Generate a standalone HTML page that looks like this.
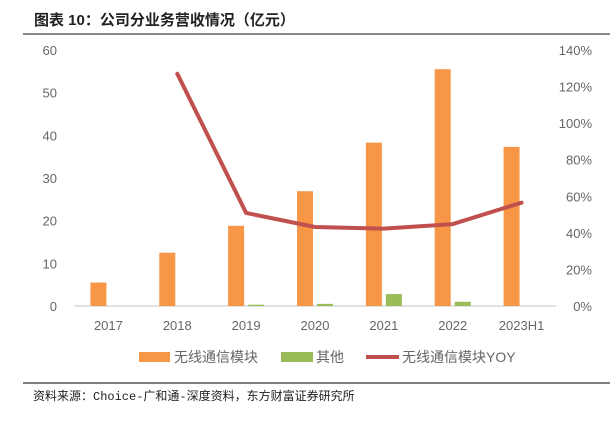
<!DOCTYPE html>
<html><head><meta charset="utf-8"><style>
body{margin:0;background:#fff;width:610px;height:416px;overflow:hidden;font-family:"Liberation Sans","Noto Sans CJK SC",sans-serif;}
</style></head><body>
<svg width="610" height="416" xmlns="http://www.w3.org/2000/svg">
<text x="34" y="25" font-size="15" font-weight="bold" fill="#222" font-family="'Liberation Sans','Noto Sans CJK SC',sans-serif">图表 10：公司分业务营收情况（亿元）</text>
<line x1="23" y1="34" x2="610" y2="34" stroke="#888" stroke-width="2"/>
<g id="plot"></g>
<line x1="23" y1="383" x2="610" y2="383" stroke="#555" stroke-width="1.5"/>
<text x="33" y="400" font-size="12" fill="#222" font-family="'Liberation Mono','Noto Sans CJK SC',monospace">资料来源：Choice-广和通-深度资料，东方财富证券研究所</text>
<g>
<rect x="139" y="352" width="31" height="10" fill="#f79646"/>
<text x="174" y="362" font-size="14" fill="#666">无线通信模块</text>
<rect x="281" y="352" width="32" height="10" fill="#9bbb59"/>
<text x="316" y="362" font-size="14" fill="#666">其他</text>
<line x1="366" y1="357" x2="399" y2="357" stroke="#c0504d" stroke-width="4"/>
<text x="402" y="362" font-size="14" fill="#666">无线通信模块YOY</text>
</g>
</svg>
<script>
const categories=["2017","2018","2019","2020","2021","2022","2023H1"];
const wireless=[5.5,12.5,18.8,26.9,38.3,55.5,37.3];
const other=[0,0,0.3,0.5,2.8,1.0,0];
const yoy=[null,127,50.9,43.2,42.3,44.8,56.5];
const leftTicks=[0,10,20,30,40,50,60];
const rightTicks=[0,20,40,60,80,100,120,140];
const NS="http://www.w3.org/2000/svg";
const g=document.getElementById('plot');
const X0=74,X1=556,Y0=306,Y1=50;
const bw=(X1-X0)/categories.length;
const xc=i=>X0+bw*(i+0.5);
const yl=v=>Y0-(v/60)*(Y0-Y1);
const yr=v=>Y0-(v/140)*(Y0-Y1);
function mk(t,a){const e=document.createElementNS(NS,t);for(const k in a)e.setAttribute(k,a[k]);g.appendChild(e);return e;}
leftTicks.forEach(v=>{const e=mk('text',{x:57,y:yl(v)+5,'font-size':13,fill:'#666','text-anchor':'end'});e.textContent=v;

});
rightTicks.forEach(v=>{const e=mk('text',{x:592,y:yr(v)+5,'font-size':13,fill:'#666','text-anchor':'end'});e.textContent=v+'%';

});
const ax=mk('line',{x1:X0,y1:Y0,x2:X1,y2:Y0,stroke:'#d9d9d9','stroke-width':1.5});


categories.forEach((c,i)=>{
const b=mk('rect',{x:xc(i)-18,y:yl(wireless[i]),width:16,height:Y0-yl(wireless[i]),fill:'#f79646'});


const o=mk('rect',{x:xc(i)+2,y:yl(other[i]),width:16,height:Y0-yl(other[i]),fill:'#9bbb59'});


const t=mk('text',{x:xc(i),y:330,'font-size':13,fill:'#666','text-anchor':'middle'});t.textContent=c;


});
const pts=[];yoy.forEach((v,i)=>{if(v!==null)pts.push(xc(i)+','+yr(v));});
const pl=mk('polyline',{points:pts.join(' '),fill:'none',stroke:'#c0504d','stroke-width':4,'stroke-linejoin':'round','stroke-linecap':'round'});


</script>
</body></html>
